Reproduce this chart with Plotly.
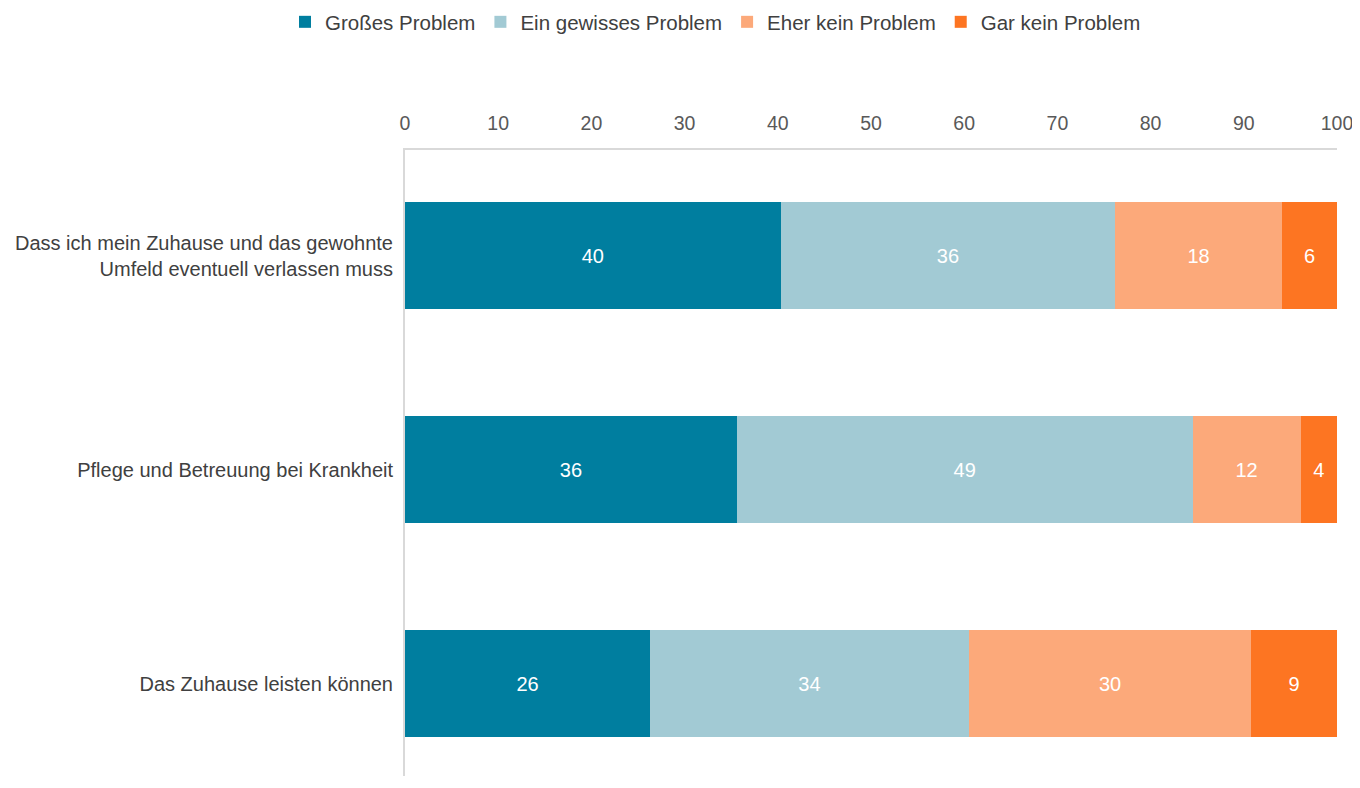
import plotly.graph_objects as go

categories = [
    "Dass ich mein Zuhause und das gewohnte<br>Umfeld eventuell verlassen muss",
    "Pflege und Betreuung bei Krankheit",
    "Das Zuhause leisten können",
]
series_names = ["Großes Problem", "Ein gewisses Problem", "Eher kein Problem", "Gar kein Problem"]
grosses = [40.3, 35.6, 26.3]
gewisses = [35.9, 48.9, 34.2]
eher_kein = [17.9, 11.6, 30.3]
gar_kein = [5.9, 3.9, 9.2]
colors = ["#007e9f", "#a2cad4", "#fca97a", "#fd7522"]
tick_vals = [0, 10, 20, 30, 40, 50, 60, 70, 80, 90, 100]

FONT = "Liberation Sans, Arial"

fig = go.Figure()
for name, vals, col in zip(series_names, [grosses, gewisses, eher_kein, gar_kein], colors):
    fig.add_trace(go.Bar(
        y=categories, x=vals, name=name, orientation="h",
        marker=dict(color=col, line=dict(width=0)),
        texttemplate="%{x:.0f}", textposition="inside", insidetextanchor="middle",
        textfont=dict(color="white", size=20, family=FONT),
        hoverinfo="x+name",
    ))

fig.update_layout(
    barmode="stack",
    bargap=0.5,
    width=1352, height=768,
    margin=dict(l=397, r=23, t=142, b=0, autoexpand=False),
    paper_bgcolor="white", plot_bgcolor="white",
    font=dict(family=FONT, size=20, color="#404040"),
    legend=dict(
        orientation="h", xref="container", yref="container",
        x=0.2049, xanchor="left", y=1 - 14 / 768, yanchor="middle",
        font=dict(size=20.5, color="#404040"),
        itemwidth=30, traceorder="normal",
    ),
    xaxis=dict(
        side="top", range=[0, 100], tickvals=tick_vals, showgrid=False,
        zeroline=False, showline=True, linecolor="#d9d9d9", linewidth=2,
        ticks="", tickfont=dict(size=19.5, color="#595959"), ticklabelstandoff=10,
    ),
    yaxis=dict(
        autorange=False, range=[2.430, -0.495], showgrid=False, zeroline=False,
        showline=True, linecolor="#d9d9d9", linewidth=2, ticks="",
        tickfont=dict(size=20, color="#404040"), ticklabelstandoff=6,
    ),
)

fig.write_html("out.html")
